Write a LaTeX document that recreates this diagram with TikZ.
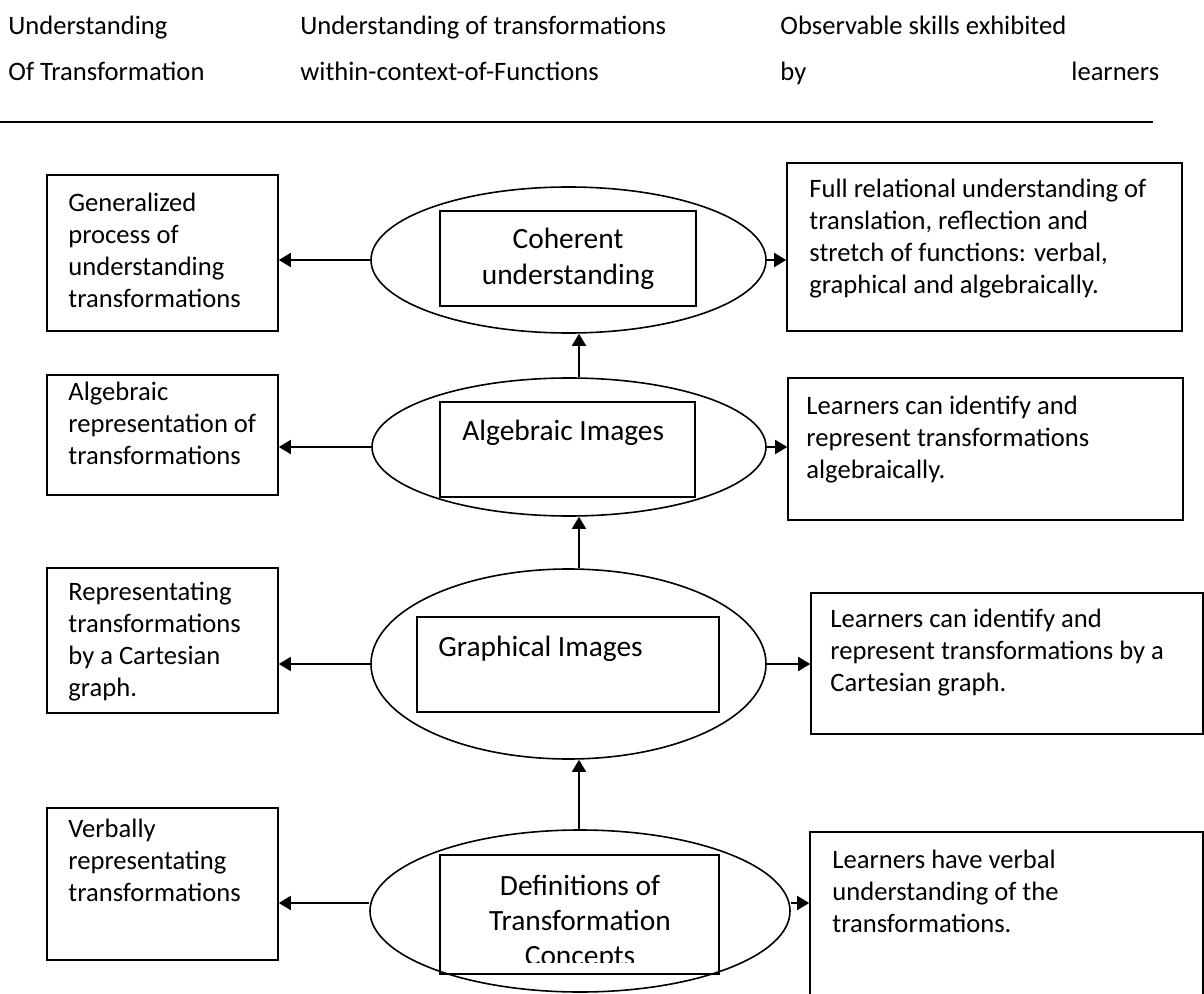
\documentclass[tikz,border=0pt]{standalone}
\usepackage{fontspec}
\setmainfont{Carlito}
\usetikzlibrary{shapes.geometric,arrows.meta,positioning,fit}

\tikzset{
  outbox/.style={draw, line width=0.8pt, rectangle, inner sep=0pt},
  oval/.style={draw, line width=0.8pt, ellipse, inner sep=0pt},
  txt/.style={inner sep=0pt, align=left, anchor=base west, font=\fontsize{13.3pt}{16pt}\selectfont},
  ctxt/.style={inner sep=0pt, align=center, anchor=base, font=\fontsize{14.7pt}{18pt}\selectfont},
  link/.style={line width=0.9pt, -{Triangle[length=6pt,width=7pt]}}
}

\begin{document}
\begin{tikzpicture}[x=0.5pt,y=-0.5pt]
  \useasboundingbox (0,0) rectangle (1204,994);

  %Heading row (base anchor sits on the last line)
  \node[txt] (h1) at (8,81) {Understanding\\[7pt]Of Transformation};
  \node[txt] (h2) at (300,81) {Understanding of transformations\\[7pt]within-context-of-Functions};
  \node[txt] (h3) at (780,81) {Observable skills exhibited\\[7pt]by};
  \node[txt] (h4) at (1071,81) {learners};
  \draw[line width=0.7pt] (0,122) -- (1153,122);

  %Levels in the middle
  \node[oval, minimum width=197.5pt, minimum height=73pt] (coh) at (568.5,260) {};
  \node[oval, minimum width=197pt, minimum height=69pt] (alg) at (569,447) {};
  \node[oval, minimum width=197.5pt, minimum height=95pt] (gra) at (568.5,664) {};
  \node[oval, minimum width=210pt, minimum height=81pt] (defn) at (580,911) {};

  \node[outbox, fit={(440,211) (696,306)}] (cohbox) {};
  \node[outbox, fit={(440,402) (695,497)}] (algbox) {};
  \node[outbox, fit={(417,617) (719,712)}] (grabox) {};
  \node[outbox, fit={(440,855) (719,974)}] (defnbox) {};

  \node[ctxt] at (568,285) {Coherent\\understanding};
  \node[ctxt, anchor=base west] at (462,440) {Algebraic Images};
  \node[ctxt, anchor=base west] at (438,656) {Graphical Images};
  \begin{scope}
    \clip (440,855) rectangle (719,962);
    \node[ctxt, font=\fontsize{14.7pt}{17.5pt}\selectfont] at (580,965) {Definitions of\\Transformation\\Concepts};
  \end{scope}

  %Left column
  \node[outbox, fit={(47,175) (278,331)}] (gen) {};
  \node[outbox, fit={(47,375) (278,495)}] (algrep) {};
  \node[outbox, fit={(47,568) (278,713)}] (grarep) {};
  \node[outbox, fit={(47,808) (278,960)}] (verb) {};
  \node[txt] at (68,308) {Generalized\\process of\\understanding\\transformations};
  \node[txt] at (68,464) {Algebraic\\representation of\\transformations};
  \node[txt] at (68,696) {Representating\\transformations\\by a Cartesian\\graph.};
  \node[txt] at (68,901) {Verbally\\representating\\transformations};

  %Right column
  \node[outbox, fit={(787,163) (1182,331)}] (full) {};
  \node[outbox, fit={(788,378) (1183,520)}] (algskill) {};
  \node[outbox, fit={(811,593) (1203,734)}] (graskill) {};
  \node[outbox, fit={(810,832) (1203,1010)}] (verbskill) {};
  \node[txt] at (809,294) {Full relational understanding of\\translation, reflection and\\stretch of functions: verbal,\\graphical and algebraically.};
  \node[txt] at (806,478) {Learners can identify and\\represent transformations\\algebraically.};
  \node[txt] at (830,691) {Learners can identify and\\represent transformations by a\\Cartesian graph.};
  \node[txt] at (832,932) {Learners have verbal\\understanding of the\\transformations.};

  %Arrows
  \coordinate (spine) at (579,0);
  \foreach \mid/\lft/\rgt in {coh/gen/full, alg/algrep/algskill, gra/grarep/graskill} {
    \draw[link] (\mid.west) -- (\mid.west -| \lft.east);
    \draw[link] (\mid.east) -- (\mid.east -| \rgt.west);
  }
  \draw[link] ([yshift=4pt]defn.west) -- ([yshift=4pt]defn.west -| verb.east);
  \draw[link] ([yshift=4pt]defn.east) -- ([yshift=4pt]defn.east -| verbskill.west);
  \draw[link] (alg.north -| spine) -- (coh.south -| spine);
  \draw[link] (gra.north -| spine) -- (alg.south -| spine);
  \draw[link] (defn.north -| spine) -- (gra.south -| spine);
\end{tikzpicture}
\end{document}
